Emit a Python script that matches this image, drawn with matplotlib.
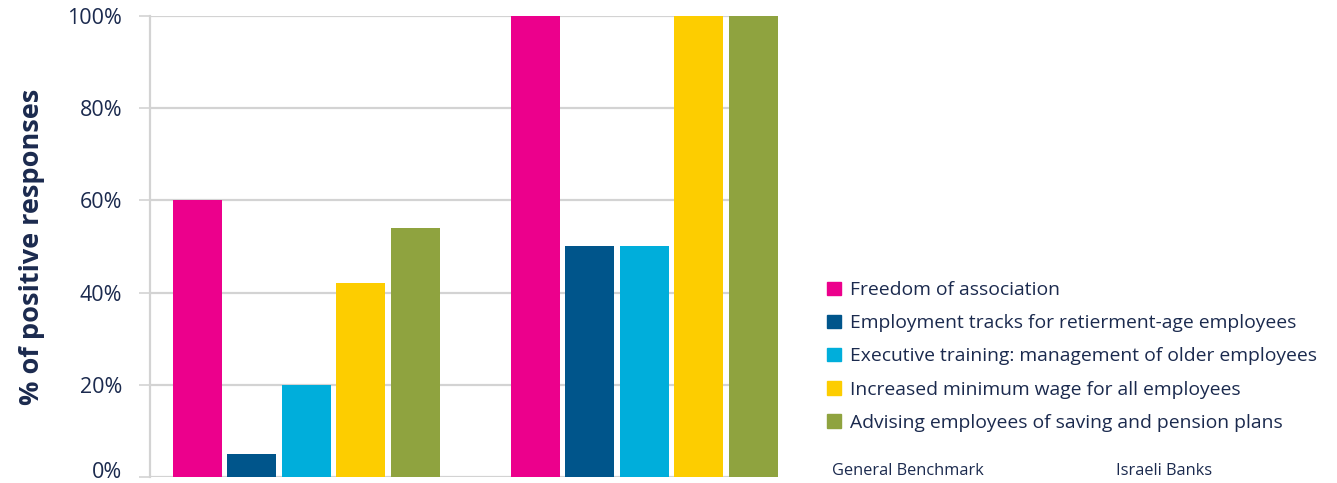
import numpy as np
import matplotlib
matplotlib.use("Agg")
import matplotlib.pyplot as plt
import matplotlib.transforms as mtransforms
from matplotlib.patches import Patch

plt.rcParams['font.family'] = ['Open Sans', 'DejaVu Sans']

groups = ["General Benchmark", "Israeli Banks"]
series = ["Freedom of association",
          "Employment tracks for retierment-age employees",
          "Executive training: management of older employees",
          "Increased minimum wage for all employees",
          "Advising employees of saving and pension plans"]
values = [[60, 100],
          [5, 50],
          [20, 50],
          [42, 100],
          [54, 100]]
colors = ["#EC008C", "#00558B", "#00AEDB", "#FDCD00", "#8FA33F"]
text_color = "#1B2A4E"
grid_color = "#D3D3D3"

W, H = 1337, 483
fig = plt.figure(figsize=(W / 100, H / 100), dpi=100)
ax = fig.add_axes([150 / W, 6 / H, 618 / W, 461 / H])

group_x = np.arange(len(groups)) * 6.2
for i, (name, vals) in enumerate(zip(series, values)):
    ax.bar(group_x + (i - 2), vals, width=0.9, color=colors[i],
           label=name, zorder=3, clip_on=False)

ax.set_xlim(-2.87, 8.47)
ax.set_ylim(0, 100)
ax.set_yticks(np.arange(0, 101, 20))
ax.set_yticklabels([f"{v}%" for v in range(0, 101, 20)])
ax.set_xticks([])
ax.yaxis.grid(True, color=grid_color, linewidth=1.6, zorder=0)
ax.tick_params(axis='y', length=8, width=1.2, color=grid_color,
               labelsize=15.5, labelcolor=text_color, pad=12)
# nudge the bottom label up a little so it stays inside the figure
lab0 = ax.get_yticklabels()[0]
lab0.set_transform(lab0.get_transform() +
                   mtransforms.ScaledTranslation(0, 5 / 72, fig.dpi_scale_trans))
for s in ["top", "right", "bottom"]:
    ax.spines[s].set_visible(False)
ax.spines["left"].set_color(grid_color)
ax.spines["left"].set_linewidth(1.6)

ax.set_ylabel("% of positive responses", fontsize=19.5, fontweight="bold",
              color=text_color, labelpad=16)

handles = [Patch(color=c) for c in colors]
fig.legend(handles, series, loc="upper left", bbox_to_anchor=(810 / W, 1 - 264 / H),
           frameon=False, fontsize=13.9, labelcolor=text_color,
           handlelength=0.7, handleheight=0.7, handletextpad=0.45,
           labelspacing=0.78)

fig.text(832 / W, 1 - 471 / H, groups[0], fontsize=11.8, color=text_color, va="center")
fig.text(1116 / W, 1 - 471 / H, groups[1], fontsize=11.8, color=text_color, va="center")

fig.savefig("out.png", dpi=100)
